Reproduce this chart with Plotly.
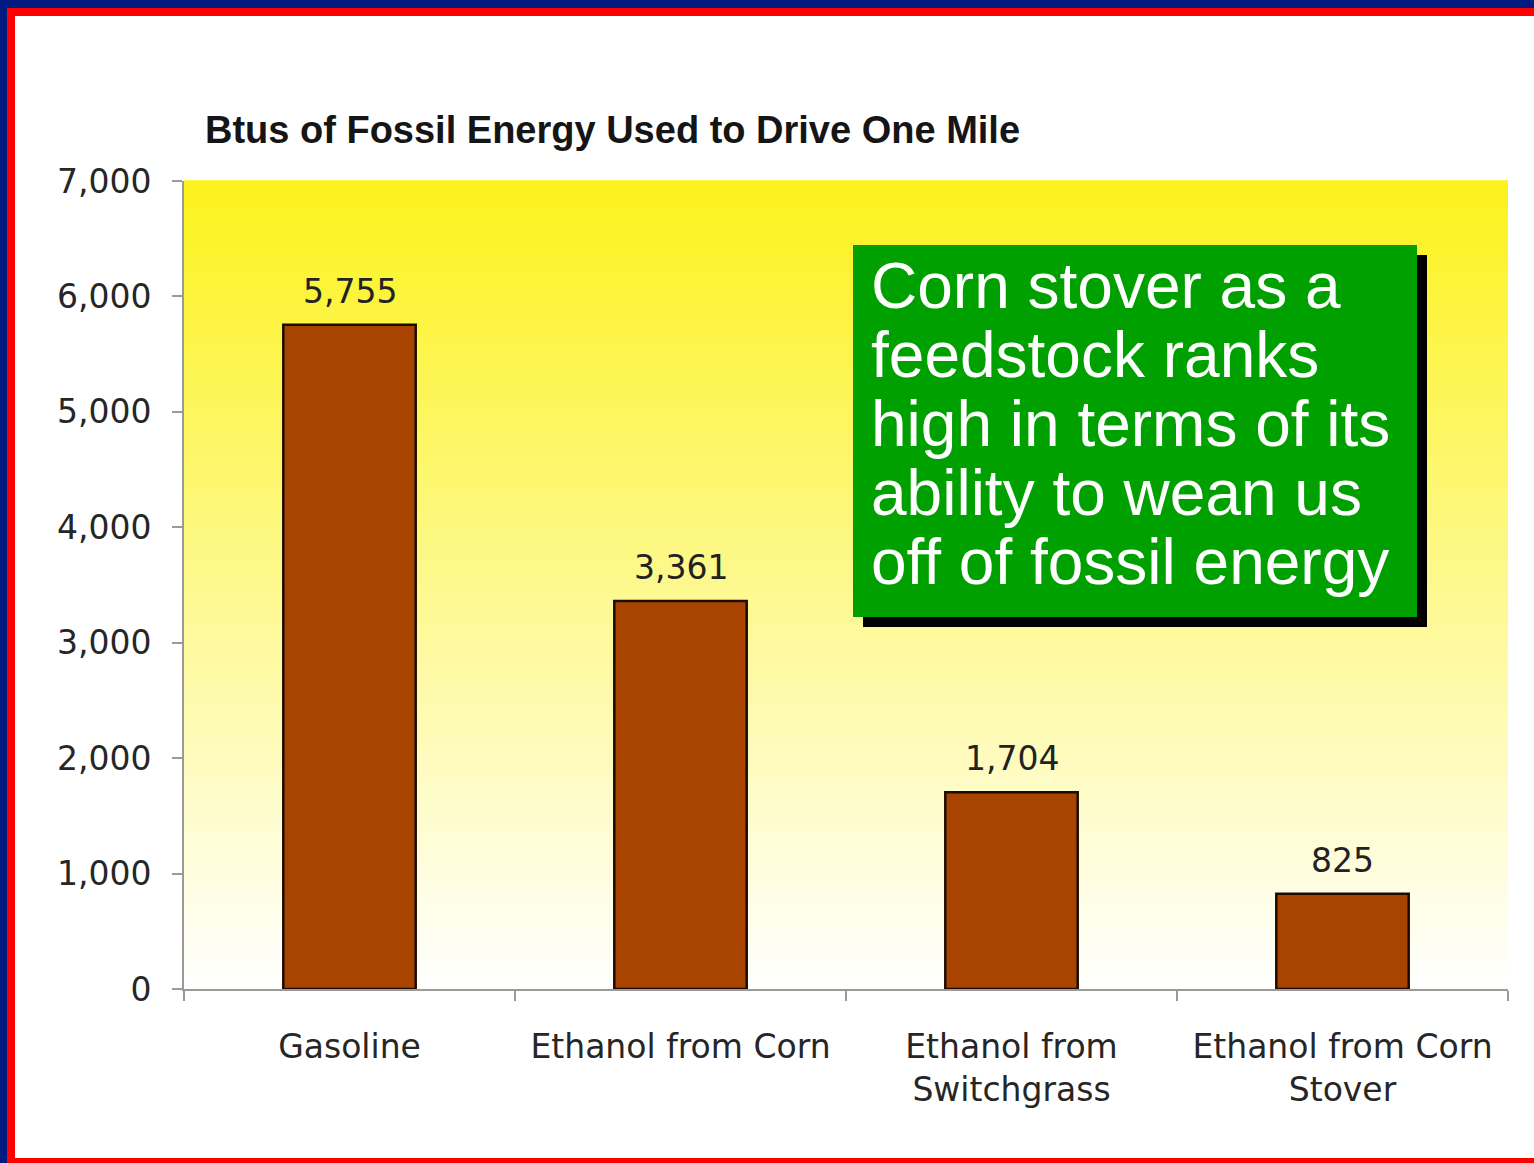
import plotly.graph_objects as go

# ---------------- data ----------------
categories = ["Gasoline", "Ethanol from Corn", "Ethanol from<br>Switchgrass", "Ethanol from Corn<br>Stover"]
values = [5755, 3361, 1704, 825]
value_labels = ["5,755", "3,361", "1,704", "825"]
y_ticks = [0, 1000, 2000, 3000, 4000, 5000, 6000, 7000]
title_text = "Btus of Fossil Energy Used to Drive One Mile"
callout_lines = ["Corn stover as a", "feedstock ranks", "high in terms of its",
                 "ability to wean us", "off of fossil energy"]

# ---------------- geometry (pixels) ----------------
W, H = 1534, 1163
PL, PR, PT, PB = 184, 1508, 181, 989


def px(x):
    return (x - PL) / (PR - PL)


def py(y):
    return (PB - y) / (PB - PT)


fig = go.Figure()
fig.add_trace(go.Bar(
    x=categories, y=values,
    width=0.4, cliponaxis=False,
    marker=dict(color="#A84300", line=dict(color="#1E0B00", width=2.5)),
    hoverinfo="skip",
))

shapes = []
# vertical yellow -> white gradient in the plot area
N = 160
top = (252, 242, 28)
for i in range(N):
    t0 = i / N
    t1 = (i + 1) / N
    f = (t0 + t1) / 2
    c = tuple(round(255 * (1 - f) + top[k] * f) for k in range(3))
    shapes.append(dict(type="rect", xref="paper", yref="paper", x0=0, x1=1,
                       y0=t0, y1=t1 + 0.001, layer="below", line=dict(width=0),
                       fillcolor="rgb(%d,%d,%d)" % c))


def prect(x0, y0, x1, y1, color, layer="above"):
    return dict(type="rect", xref="paper", yref="paper",
                x0=px(x0), x1=px(x1), y0=py(y1), y1=py(y0),
                fillcolor=color, line=dict(width=0), layer=layer)


# frame borders
shapes.append(prect(-5, -5, W + 5, 8, "#001A80"))
shapes.append(prect(-5, -5, 7, H + 5, "#001A80"))
shapes.append(prect(7, 8, W + 5, 16, "#FF0000"))
shapes.append(prect(7, 8, 15, H + 5, "#FF0000"))
shapes.append(prect(7, 1158, W + 5, H + 5, "#FF0000"))

# callout box with shadow
shapes.append(prect(863, 255, 1427, 627, "#000000"))
shapes.append(prect(853, 245, 1417, 617, "#00A000"))

annotations = [dict(text=title_text, xref="paper", yref="paper", x=px(203), y=py(130),
                    xanchor="left", yanchor="middle", showarrow=False,
                    font=dict(family="Liberation Sans", size=38, color="#151515", weight="bold"))]

# value labels above bars (data coordinates)
for cat, v, lab in zip(categories, values, value_labels):
    annotations.append(dict(text=lab, x=cat, y=v, xref="x", yref="y",
                            xanchor="center", yanchor="bottom", yshift=12, showarrow=False,
                            font=dict(family="DejaVu Sans", size=33, color="#222222")))

line_y = [286, 355, 424, 493, 562]
for txt, yy in zip(callout_lines, line_y):
    annotations.append(dict(text=txt, xref="paper", yref="paper", x=px(869), y=py(yy),
                            xanchor="left", yanchor="middle", showarrow=False,
                            font=dict(family="Liberation Sans", size=64, color="#FFFFFF")))

fig.update_layout(
    width=W, height=H,
    margin=dict(l=PL, r=W - PR, t=PT, b=H - PB, pad=0),
    paper_bgcolor="#FFFFFF", plot_bgcolor="rgba(0,0,0,0)",
    showlegend=False,
    shapes=shapes, annotations=annotations,
    xaxis=dict(type="category", range=[-0.5, 3.5], showline=True, linecolor="#9A9A9A",
               linewidth=2, ticks="outside", tickson="boundaries", ticklen=10,
               tickcolor="#9A9A9A", tickwidth=2, showgrid=False, zeroline=False,
               ticklabelstandoff=27,
               tickfont=dict(family="DejaVu Sans", size=33, color="#262626"),
               fixedrange=True),
    yaxis=dict(range=[0, 7000], tickvals=y_ticks, tickformat=",", showline=True,
               linecolor="#9A9A9A", linewidth=2, ticks="outside", ticklen=10,
               tickcolor="#9A9A9A", tickwidth=2, showgrid=False, zeroline=False,
               ticklabelstandoff=14,
               tickfont=dict(family="DejaVu Sans", size=33, color="#262626"),
               fixedrange=True),
)

fig.write_html("out.html", config={"displayModeBar": False},
               post_script="document.body.style.margin='0';")
